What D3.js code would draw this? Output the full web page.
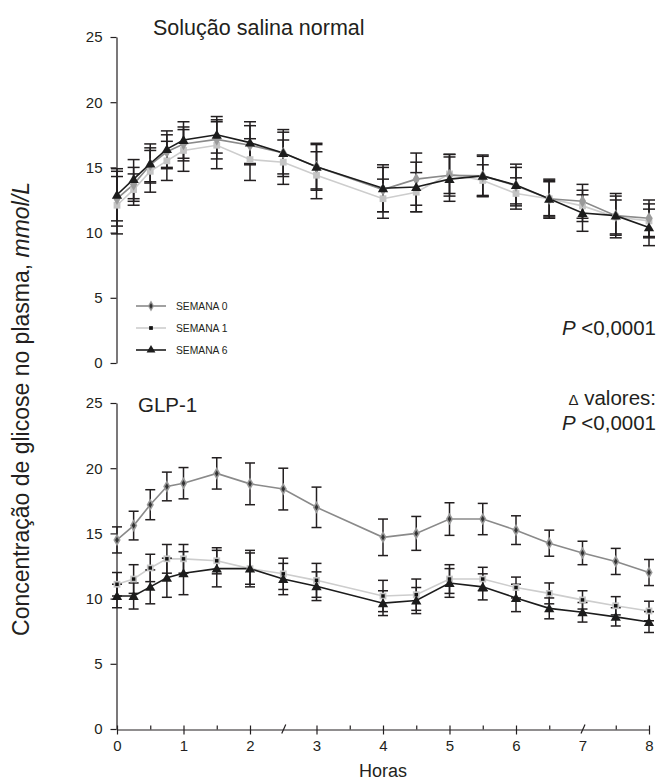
<!DOCTYPE html>
<html>
<head>
<meta charset="UTF-8">
<title>Glicose plasma</title>
<script type="text/javascript" src="https://d3js.org/d3.v7.min.js"></script>
<style>
body { margin: 0; background: #fff; }
svg text { font-family: Arial, "Liberation Sans", Helvetica, sans-serif; fill: #231f20; }
</style>
</head>
<body>
<script type="text/javascript">
// horas de medição
var hours = [0, 0.25, 0.5, 0.75, 1, 1.5, 2, 2.5, 3, 4, 4.5, 5, 5.5, 6, 6.5, 7, 7.5, 8];
var xTicks = [0, 1, 2, 3, 4, 5, 6, 7, 8];
var yTicks = [0, 5, 10, 15, 20, 25];
var seriesNames = ["SEMANA 0", "SEMANA 1", "SEMANA 6"];

// Solução salina normal
var salinaS0 = [12.6, 13.7, 15.2, 16.2, 16.8, 17.15, 16.7, 16.1, 15.05, 13.3, 14.1, 14.4, 14.35, 13.6, 12.6, 12.4, 11.3, 11.1];
var salinaS0Err = [2.1, 1.3, 1.3, 1.3, 1.3, 1.5, 1.5, 1.6, 1.7, 1.7, 2.0, 1.6, 1.5, 1.4, 1.4, 1.3, 1.5, 1.4];
var salinaS1 = [12.1, 13.3, 14.7, 15.5, 16.3, 16.7, 15.6, 15.4, 14.4, 12.6, 13.1, 14.5, 14.0, 13.0, 12.6, 12.05, 11.2, 10.9];
var salinaS1Err = [2.2, 1.2, 1.6, 1.5, 1.6, 1.8, 1.6, 1.7, 1.8, 1.5, 1.5, 1.5, 1.2, 1.2, 1.3, 1.2, 1.3, 1.3];
var salinaS6 = [12.9, 14.1, 15.3, 16.4, 17.1, 17.5, 16.9, 16.1, 15.05, 13.4, 13.5, 14.1, 14.35, 13.65, 12.6, 11.5, 11.3, 10.4];
var salinaS6Err = [2.0, 1.5, 1.5, 1.4, 1.4, 1.4, 1.6, 1.8, 1.8, 1.8, 1.9, 1.7, 1.6, 1.6, 1.5, 1.4, 1.7, 1.4];

// GLP-1
var glpS0 = [14.5, 15.6, 17.2, 18.6, 18.85, 19.6, 18.8, 18.4, 17.0, 14.7, 15.0, 16.1, 16.1, 15.25, 14.25, 13.5, 12.85, 12.0];
var glpS0Err = [1.0, 1.1, 1.15, 1.1, 1.2, 1.2, 1.6, 1.6, 1.55, 1.4, 1.3, 1.25, 1.2, 1.1, 1.0, 0.9, 1.0, 1.0];
var glpS1 = [11.1, 11.5, 12.35, 13.05, 13.05, 12.9, 12.3, 11.9, 11.4, 10.2, 10.3, 11.5, 11.5, 10.85, 10.4, 9.9, 9.45, 9.05];
var glpS1Err = [0.9, 1.1, 1.05, 1.1, 1.1, 1.0, 1.2, 1.2, 1.3, 1.2, 1.2, 1.1, 0.9, 0.8, 0.8, 0.7, 0.7, 0.75];
var glpS6 = [10.2, 10.2, 10.9, 11.6, 11.95, 12.3, 12.3, 11.5, 10.95, 9.65, 9.85, 11.2, 10.9, 10.05, 9.25, 8.95, 8.6, 8.2];
var glpS6Err = [0.9, 1.0, 1.3, 1.5, 1.65, 1.4, 1.4, 1.2, 1.1, 0.95, 1.0, 1.1, 1.0, 1.05, 0.8, 0.75, 0.7, 0.8];

var width = 666, height = 782;
var svg = d3.select("body")
	.append("svg")
	.attr("width", width)
	.attr("height", height);

var xScale = d3.scaleLinear().domain([0, 8]).range([117, 649]);
var yTop = d3.scaleLinear().domain([0, 25]).range([363, 37]);
var yBot = d3.scaleLinear().domain([0, 25]).range([729, 403]);

// estilos das séries
var styles = [
	{ line: "#8a8a8a", symbol: d3.symbolDiamond, size: 46, fill: "#9a9a9a", inner: "#333" },
	{ line: "#cdcdcd", symbol: d3.symbolSquare, size: 46, fill: "#c4c4c4", inner: "#111" },
	{ line: "#1c1c1c", symbol: d3.symbolTriangle, size: 46, fill: "#1c1c1c", inner: null }
];

function yAxis(scale) {
	var g = svg.append("g")
		.attr("transform", "translate(116.5,0)")
		.call(d3.axisLeft(scale).tickValues(yTicks).tickSize(6).tickSizeOuter(0).tickPadding(8));
	g.select(".domain").attr("stroke", "#231f20").attr("stroke-width", 1.2);
	g.selectAll(".tick line").attr("stroke", "#231f20").attr("stroke-width", 1.2);
	g.selectAll(".tick text").style("font-size", "15px");
	return g;
}

// desenha um painel (linhas, barras de erro, marcadores)
function panel(yScale, vals, errs, innerDot, capW) {
	var order = [1, 0, 2];
	order.forEach(function(k) {
		var data = hours.map(function(h, i) { return { x: h, y: vals[k][i], e: errs[k][i] }; });
		var line = d3.line()
			.x(function(d) { return xScale(d.x); })
			.y(function(d) { return yScale(d.y); });
		svg.append("path")
			.datum(data)
			.attr("d", line)
			.attr("fill", "none")
			.attr("stroke", styles[k].line)
			.attr("stroke-width", 1.6);

		var eb = svg.append("g").attr("stroke", "#231f20").attr("stroke-width", 1.5);
		eb.selectAll("line.v").data(data).enter().append("line")
			.attr("x1", function(d) { return xScale(d.x); })
			.attr("x2", function(d) { return xScale(d.x); })
			.attr("y1", function(d) { return yScale(d.y - d.e); })
			.attr("y2", function(d) { return yScale(d.y + d.e); });
		[1, -1].forEach(function(s) {
			eb.selectAll("line.c" + s).data(data).enter().append("line")
				.attr("x1", function(d) { return xScale(d.x) - capW / 2; })
				.attr("x2", function(d) { return xScale(d.x) + capW / 2; })
				.attr("y1", function(d) { return yScale(d.y + s * d.e); })
				.attr("y2", function(d) { return yScale(d.y + s * d.e); });
		});
	});
	order.forEach(function(k) {
		var data = hours.map(function(h, i) { return { x: h, y: vals[k][i] }; });
		svg.append("g").selectAll("path").data(data).enter().append("path")
			.attr("transform", function(d) { return "translate(" + xScale(d.x) + "," + (yScale(d.y) + (k == 2 ? 1 : 0)) + ")"; })
			.attr("d", d3.symbol().type(styles[k].symbol).size(styles[k].size))
			.attr("fill", styles[k].fill);
		if (innerDot && styles[k].inner) {
			svg.append("g").selectAll("path").data(data).enter().append("path")
				.attr("transform", function(d) { return "translate(" + xScale(d.x) + "," + yScale(d.y) + ")"; })
				.attr("d", d3.symbol().type(styles[k].symbol).size(12))
				.attr("fill", styles[k].inner);
		}
	});
}

yAxis(yTop);
yAxis(yBot);

panel(yTop, [salinaS0, salinaS1, salinaS6], [salinaS0Err, salinaS1Err, salinaS6Err], false, 12);
panel(yBot, [glpS0, glpS1, glpS6], [glpS0Err, glpS1Err, glpS6Err], true, 10);

// eixo X
var halfTicks = d3.range(0, 8.01, 0.5);
var xg = svg.append("g")
	.attr("transform", "translate(0,729.5)")
	.call(d3.axisBottom(xScale).tickValues(halfTicks).tickSize(5).tickSizeOuter(0).tickPadding(6)
		.tickFormat(function(d) { return d % 1 == 0 ? d : ""; }));
xg.select(".domain").attr("stroke", "#231f20").attr("stroke-width", 1.2);
xg.selectAll(".tick line").attr("stroke", "#231f20").attr("stroke-width", 1.2)
	.attr("y1", -4)
	.attr("y2", function(d) { return d % 1 == 0 ? 5 : 0; });
xg.selectAll(".tick text").style("font-size", "15px");
// marcas de quebra do eixo
xg.selectAll(".tick").filter(function(d) { return d == 2.5 || d == 7; })
	.select("line")
	.attr("x1", -2).attr("x2", 2).attr("y1", 4).attr("y2", -5);

// textos
svg.append("text").attr("x", 153).attr("y", 35).style("font-size", "21.5px").text("Solução salina normal");
svg.append("text").attr("x", 138).attr("y", 412).style("font-size", "20.5px").text("GLP-1");

var p1 = svg.append("text").attr("x", 656).attr("y", 335).attr("text-anchor", "end").style("font-size", "20.5px");
p1.append("tspan").style("font-style", "italic").text("P");
p1.append("tspan").text(" <0,0001");

var d1 = svg.append("text").attr("x", 656).attr("y", 405).attr("text-anchor", "end").style("font-size", "20.5px");
d1.append("tspan").style("font-size", "15px").text("\u0394");
d1.append("tspan").text(" valores:");
var p2 = svg.append("text").attr("x", 656).attr("y", 430).attr("text-anchor", "end").style("font-size", "20.5px");
p2.append("tspan").style("font-style", "italic").text("P");
p2.append("tspan").text(" <0,0001");

svg.append("text").attr("x", xScale(4)).attr("y", 777).attr("text-anchor", "middle").style("font-size", "18px").text("Horas");

var yl = svg.append("text")
	.attr("transform", "translate(29,409) rotate(-90)")
	.attr("text-anchor", "middle")
	.style("font-size", "23px");
yl.append("tspan").text("Concentração de glicose no plasma, ");
yl.append("tspan").style("font-style", "italic").text("mmol/L");

// legenda
var legend = svg.append("g");
seriesNames.forEach(function(name, k) {
	var ly = 306 + k * 22;
	legend.append("line")
		.attr("x1", 136).attr("x2", 166)
		.attr("y1", ly).attr("y2", ly)
		.attr("stroke", styles[k].line).attr("stroke-width", 1.6);
	legend.append("path")
		.attr("transform", "translate(151," + ly + ")")
		.attr("d", d3.symbol().type(styles[k].symbol).size(k == 1 ? 14 : 34))
		.attr("fill", k == 1 ? "#111" : styles[k].fill);
	if (k == 0) {
		legend.append("path")
			.attr("transform", "translate(151," + ly + ")")
			.attr("d", d3.symbol().type(d3.symbolDiamond).size(10))
			.attr("fill", "#333");
	}
	legend.append("text")
		.attr("x", 176).attr("y", ly + 4)
		.style("font-size", "10.3px")
		.text(name);
});
</script>
</body>
</html>
